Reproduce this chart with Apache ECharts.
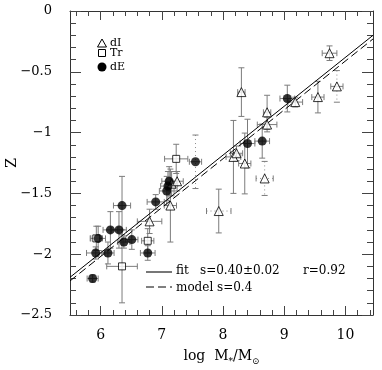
<!DOCTYPE html>
<html><head><meta charset="utf-8">
<script src="https://cdn.jsdelivr.net/npm/echarts@6/dist/echarts.min.js"></script>
<style>html,body{margin:0;padding:0;background:#fff}#c{width:382px;height:370px}</style>
</head><body><div id="c"></div>
<script>
// ---------- data ----------
const xMajorTicks = [6, 7, 8, 9, 10];
const xMinorTicks = [5.6, 5.8, 6.2, 6.4, 6.6, 6.8, 7.2, 7.4, 7.6, 7.8, 8.2, 8.4, 8.6, 8.8, 9.2, 9.4, 9.6, 9.8, 10.2, 10.4];

// dE (filled circles)
const dE_x    = [5.87, 5.92, 5.96, 6.12, 6.16, 6.30, 6.35, 6.38, 6.51, 6.77, 6.90, 7.08, 7.10, 7.12, 7.55, 8.40, 8.64, 9.05];
const dE_z    = [-2.20, -1.99, -1.87, -1.99, -1.80, -1.80, -1.60, -1.90, -1.88, -1.99, -1.57, -1.48, -1.44, -1.40, -1.24, -1.09, -1.07, -0.72];
const dE_xerr = [0.09, 0.15, 0.12, 0.10, 0.12, 0.12, 0.14, 0.10, 0.10, 0.12, 0.14, 0.12, 0.12, 0.12, 0.10, 0.12, 0.12, 0.12];
const dE_zerr = [0.03, 0.05, 0.10, 0.09, 0.15, 0.15, 0.24, 0.05, 0.08, 0.06, 0.06, 0.12, 0.12, 0.12, 0.22, 0.20, 0.14, 0.11];

// dI (open triangles)
const dI_x    = [6.80, 7.14, 7.16, 7.25, 7.93, 8.17, 8.22, 8.30, 8.355, 8.68, 8.72, 8.72, 9.18, 9.55, 9.74, 9.86];
const dI_z    = [-1.73, -1.60, -1.42, -1.40, -1.645, -1.20, -1.17, -0.667, -1.254, -1.377, -0.833, -0.934, -0.749, -0.708, -0.347, -0.62];
const dI_xerr = [0.20, 0.10, 0.10, 0.10, 0.20, 0.12, 0.10, 0.06, 0.10, 0.14, 0.06, 0.16, 0.12, 0.10, 0.12, 0.10];
const dI_zerr = [0.10, 0.30, 0.10, 0.08, 0.18, 0.30, 0.06, 0.20, 0.25, 0.14, 0.14, 0.06, 0.04, 0.13, 0.06, 0.13];

// Tr (open squares)
const Tr_x    = [5.93, 6.35, 6.77, 7.235];
const Tr_z    = [-1.87, -2.10, -1.89, -1.216];
const Tr_xerr = [0.10, 0.25, 0.10, 0.19];
const Tr_zerr = [0.10, 0.30, 0.10, 0.12];

// fit and model lines (end points)
const fitX   = [5.5, 10.45];
const fitZ   = [-2.19, -0.20];
const modelX = [5.5, 10.45];
const modelZ = [-2.22, -0.23];

// ---------- styling helpers ----------
// indices whose error bars are drawn dotted (horizontal / vertical)
const dI_dotX = [4, 9];
const dI_dotZ = [9, 15];
const dE_dotZ = [14];
const SERIF = '"DejaVu Serif","Liberation Serif",serif';
const TICK = '#444';

function errSeries(xs, zs, xe, ze, dotX, dotZ) {
  return {
    type: 'custom', silent: true, z: 1,
    xAxisIndex: 0, yAxisIndex: 0,
    encode: {x: 0, y: 1},
    data: xs.map((x, i) => [x, zs[i], xe[i], ze[i], i]),
    renderItem(params, api) {
      const x = api.value(0), z = api.value(1), ex = api.value(2), ez = api.value(3), i = api.value(4);
      const l = api.coord([x - ex, z]), r = api.coord([x + ex, z]);
      const t = api.coord([x, z + ez]), b = api.coord([x, z - ez]);
      const cap = 3;
      const solid = {stroke: '#7c7c7c', lineWidth: 1};
      const dotted = {stroke: '#8c8c8c', lineWidth: 1, lineDash: [1, 3]};
      const ch = [];
      const seg = (x1, y1, x2, y2, st) => ch.push({type: 'line', shape: {x1, y1, x2, y2}, style: st});
      if (ex > 0) {
        seg(l[0], l[1], r[0], r[1], dotX.indexOf(i) >= 0 ? dotted : solid);
        seg(l[0], l[1] - cap, l[0], l[1] + cap, solid);
        seg(r[0], r[1] - cap, r[0], r[1] + cap, solid);
      }
      if (ez > 0) {
        seg(t[0], t[1], b[0], b[1], dotZ.indexOf(i) >= 0 ? dotted : solid);
        seg(t[0] - cap, t[1], t[0] + cap, t[1], solid);
        seg(b[0] - cap, b[1], b[0] + cap, b[1], solid);
      }
      return {type: 'group', children: ch};
    }
  };
}

function xAxisDef(pos, vals, len, label, line) {
  return {
    type: 'value', position: pos, min: 5.5, max: 10.45,
    axisLine: {show: line, onZero: false, lineStyle: {color: '#333', width: 1}},
    axisTick: {show: true, inside: true, length: len, customValues: vals, lineStyle: {color: TICK}},
    axisLabel: label ? {show: true, customValues: xMajorTicks, margin: 13, color: '#000', fontFamily: SERIF, fontSize: 14} : {show: false},
    splitLine: {show: false}
  };
}

const chart = echarts.init(document.getElementById('c'), null, {renderer: 'canvas'});
chart.setOption({
  animation: false,
  backgroundColor: '#fff',
  grid: {left: 70, right: 9, top: 11, bottom: 55, containLabel: false, outerBoundsMode: 'none'},
  xAxis: [
    Object.assign(xAxisDef('bottom', xMajorTicks, 9, true, true), {
      name: '{a|log  M}{s|*}{a|/M}{s|\u2299}',
      nameLocation: 'middle', nameGap: 31, nameMoveOverlap: false,
      nameTextStyle: {
        color: '#000', fontFamily: SERIF,
        rich: {
          a: {fontSize: 14, fontFamily: SERIF, color: '#000', lineHeight: 20, verticalAlign: 'middle'},
          s: {fontSize: 9, fontFamily: SERIF, color: '#000', lineHeight: 20, verticalAlign: 'bottom'}
        }
      }
    }),
    xAxisDef('bottom', xMinorTicks, 5, false, false),
    xAxisDef('top', xMajorTicks, 9, false, true),
    xAxisDef('top', xMinorTicks, 5, false, false)
  ],
  yAxis: [
    {
      type: 'value', position: 'left', min: -2.5, max: 0, interval: 0.5,
      name: 'Z', nameLocation: 'middle', nameGap: 51, nameMoveOverlap: false,
      nameTextStyle: {color: '#000', fontFamily: SERIF, fontSize: 14},
      axisLine: {show: true, onZero: false, lineStyle: {color: '#333'}},
      axisTick: {show: true, inside: true, length: 11, lineStyle: {color: TICK}},
      minorTick: {show: true, splitNumber: 5, length: 6, lineStyle: {color: TICK}},
      axisLabel: {margin: 18, color: '#000', fontFamily: SERIF, fontSize: 13,
        formatter: v => v === 0 ? '0' : String(v).replace('-', '\u2212')},
      splitLine: {show: false}
    },
    {
      type: 'value', position: 'right', min: -2.5, max: 0, interval: 0.5,
      axisLine: {show: true, onZero: false, lineStyle: {color: '#333'}},
      axisTick: {show: true, inside: true, length: 11, lineStyle: {color: TICK}},
      minorTick: {show: true, splitNumber: 5, length: 6, lineStyle: {color: TICK}},
      axisLabel: {show: false},
      splitLine: {show: false}
    }
  ],
  series: [
    errSeries(dE_x, dE_z, dE_xerr, dE_zerr, [], dE_dotZ),
    errSeries(dI_x, dI_z, dI_xerr, dI_zerr, dI_dotX, dI_dotZ),
    errSeries(Tr_x, Tr_z, Tr_xerr, Tr_zerr, [], []),
    {type: 'line', name: 'fit', data: fitX.map((x, i) => [x, fitZ[i]]), symbol: 'none', z: 3,
      lineStyle: {color: '#000', width: 1}, silent: true},
    {type: 'line', name: 'model', data: modelX.map((x, i) => [x, modelZ[i]]), symbol: 'none', z: 3,
      lineStyle: {color: '#000', width: 1, type: [8, 4]}, silent: true},
    {type: 'scatter', name: 'dI', data: dI_x.map((x, i) => [x, dI_z[i]]), symbol: 'triangle', symbolSize: 9, z: 4,
      itemStyle: {color: '#fff', borderColor: '#000', borderWidth: 1}},
    {type: 'scatter', name: 'Tr', data: Tr_x.map((x, i) => [x, Tr_z[i]]), symbol: 'rect', symbolSize: 7, z: 4,
      itemStyle: {color: '#fff', borderColor: '#000', borderWidth: 1}},
    {type: 'scatter', name: 'dE', data: dE_x.map((x, i) => [x, dE_z[i]]), symbol: 'circle', symbolSize: 9, z: 5,
      itemStyle: {color: '#000'}}
  ],
  graphic: [
    {type: 'polygon', shape: {points: [[102, 39], [97.5, 47], [106.5, 47]]}, style: {fill: '#fff', stroke: '#000', lineWidth: 1}},
    {type: 'rect', shape: {x: 98.5, y: 49.5, width: 7, height: 7}, style: {fill: '#fff', stroke: '#000', lineWidth: 1}},
    {type: 'circle', shape: {cx: 102, cy: 67, r: 4.5}, style: {fill: '#000'}},
    {type: 'text', x: 110, y: 43, style: {text: 'dI', font: '11px ' + SERIF, fill: '#000', verticalAlign: 'middle'}},
    {type: 'text', x: 110, y: 53, style: {text: 'Tr', font: '11px ' + SERIF, fill: '#000', verticalAlign: 'middle'}},
    {type: 'text', x: 110, y: 67, style: {text: 'dE', font: '11px ' + SERIF, fill: '#000', verticalAlign: 'middle'}},
    {type: 'line', shape: {x1: 146, y1: 272, x2: 172, y2: 272}, style: {stroke: '#777', lineWidth: 2}},
    {type: 'line', shape: {x1: 146, y1: 287, x2: 172, y2: 287}, style: {stroke: '#000', lineWidth: 1, lineDash: [8, 4]}},
    {type: 'text', x: 176, y: 271, style: {text: 'fit', font: '12px ' + SERIF, fill: '#000', verticalAlign: 'middle'}},
    {type: 'text', x: 200, y: 271, style: {text: 's=0.40\u00b10.02', font: '12px ' + SERIF, fill: '#000', verticalAlign: 'middle'}},
    {type: 'text', x: 303, y: 271, style: {text: 'r=0.92', font: '12px ' + SERIF, fill: '#000', verticalAlign: 'middle'}},
    {type: 'text', x: 176, y: 288, style: {text: 'model', font: '12px ' + SERIF, fill: '#000', verticalAlign: 'middle'}},
    {type: 'text', x: 217, y: 288, style: {text: 's=0.4', font: '12px ' + SERIF, fill: '#000', verticalAlign: 'middle'}}
  ]
});
</script></body></html>
